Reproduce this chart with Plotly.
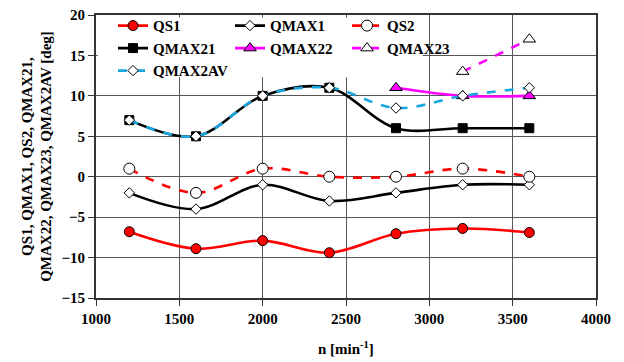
import plotly.graph_objects as go

# Rotational speed [min^-1]
n = [1200, 1600, 2000, 2400, 2800, 3200, 3600]

qs1 = [-6.8, -8.9, -7.9, -9.4, -7.05, -6.4, -6.9]
qmax1 = [-2, -4, -1, -3, -2, -1, -1]
qs2 = [1, -2, 1, 0, 0, 1, 0]
qmax21 = [7, 5, 10, 11, 6, 6, 6]

n_22 = [2800, 3200, 3600]
qmax22 = [11, 10, 10]

n_23 = [3200, 3600]
qmax23 = [13, 17]

qmax2av = [7, 5, 10, 11, 8.5, 10, 11]

x_ticks = [1000, 1500, 2000, 2500, 3000, 3500, 4000]
y_ticks = [-15, -10, -5, 0, 5, 10, 15, 20]

FONT = "Liberation Serif, Times New Roman, serif"
CYAN = "#1aa7e0"
MAGENTA = "#ff00ff"

fig = go.Figure()


def add(x, y, name, color, dash, symbol, size, fill, legend):
    fig.add_trace(go.Scatter(
        x=x, y=y, name=name, mode="lines+markers",
        line=dict(color=color, width=2.6, dash=dash, shape="spline", smoothing=1.0),
        marker=dict(symbol=symbol, size=size, color=fill,
                    line=dict(color="black", width=1)),
        legend=legend,
    ))


add(n, qs1, "QS1", "#ff0000", "solid", "circle", 10, "#ff0000", "legend")
add(n, qmax1, "QMAX1", "black", "solid", "diamond", 8, "white", "legend2")
add(n, qs2, "QS2", "#ff0000", "dash", "circle", 11, "white", "legend3")
add(n, qmax21, "QMAX21", "black", "solid", "square", 9, "black", "legend")
add(n_22, qmax22, "QMAX22", MAGENTA, "solid", "triangle-up", 11, MAGENTA, "legend2")
add(n_23, qmax23, "QMAX23", MAGENTA, "dash", "triangle-up", 11, "white", "legend3")
add(n, qmax2av, "QMAX2AV", CYAN, "dash", "diamond", 8, "white", "legend")

bold = dict(family=FONT, size=15, color="black", weight="bold")

legend_common = dict(
    font=bold,
    bgcolor="rgba(0,0,0,0)", borderwidth=0,
    xanchor="left", yanchor="top", tracegroupgap=0,
    itemwidth=30, orientation="v",
)

fig.update_layout(
    width=624, height=362,
    margin=dict(l=96, r=28, t=15, b=64, autoexpand=False),
    paper_bgcolor="white", plot_bgcolor="white",
    font=dict(family=FONT, color="black"),
    legend=dict(x=0.034, y=1.02, **legend_common),
    legend2=dict(x=0.268, y=1.02, **legend_common),
    legend3=dict(x=0.502, y=1.02, **legend_common),
    shapes=[dict(type="rect", xref="x", yref="y", x0=1010, x1=2960, y0=12.3, y1=19.7,
                 fillcolor="white", line=dict(width=0), layer="between")],
    annotations=[dict(text="n [min<sup>-1</sup>]", xref="paper", yref="paper",
                      x=0.5, y=-0.175, xanchor="center", yanchor="middle",
                      showarrow=False, font=bold)],
)

axis_common = dict(
    showgrid=True, gridcolor="#555555", gridwidth=1,
    showline=True, linecolor="#333333", linewidth=2, mirror=True,
    ticks="outside", ticklen=6, tickcolor="#333333", tickwidth=1,
    tickfont=bold,
    zeroline=False,
)

fig.update_xaxes(range=[1000, 4000], tickvals=x_ticks, **axis_common)
fig.update_yaxes(
    range=[-15, 20], tickvals=y_ticks,
    title=dict(text="QS1, QMAX1, QS2, QMAX21,<br>QMAX22, QMAX23, QMAX2AV [deg]", standoff=6,
               font=bold),
    **axis_common,
)

fig.write_html("out.html")
